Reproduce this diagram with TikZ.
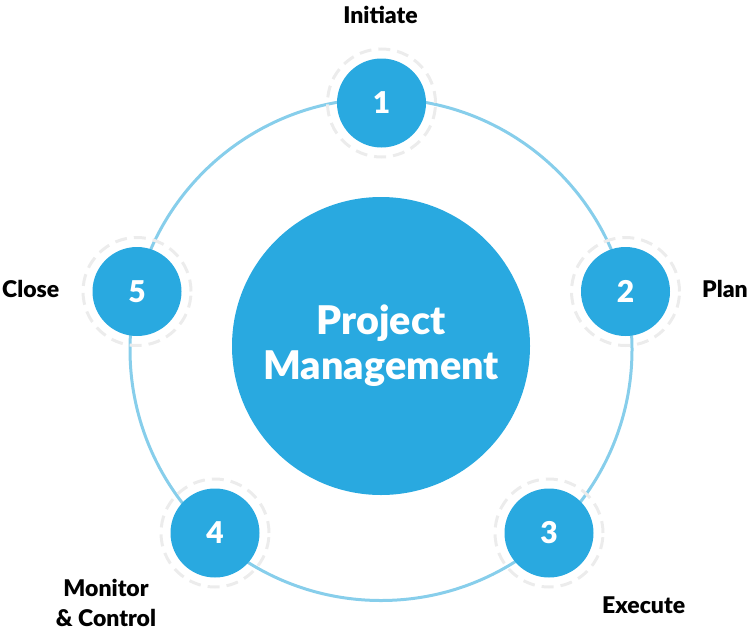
\documentclass[tikz,border=0pt]{standalone}
\usepackage{fontspec}
\setmainfont{Lato}[BoldFont={Lato Black}]

\definecolor{pmblue}{RGB}{41,169,224}
\definecolor{ringblue}{RGB}{135,206,235}
\definecolor{halogray}{RGB}{236,236,236}

\tikzset{
  stage/.style={circle,fill=pmblue,minimum size=89pt,inner sep=0pt,
    text=white,font=\fontsize{30}{30}\selectfont\bfseries},
  phase/.style={anchor=base,inner sep=0pt,font=\fontsize{23}{30}\selectfont\bfseries},
  halo/.style={draw=halogray,line width=3pt,dash pattern=on 12pt off 7pt},
  ring/.style={draw=ringblue,line width=3pt}
}

\begin{document}
\begin{tikzpicture}[x=1pt,y=-1pt]
      \useasboundingbox (0,0) rectangle (749,632);
      \coordinate (hub) at (381,349.5);
      \draw[ring] (hub) circle (251pt);

      \node[circle,fill=pmblue,minimum size=298pt,inner sep=0pt,text=white,
        align=center,font=\fontsize{39.5}{45}\selectfont\bfseries] (pm) at (381,346) {Project\\Management};

      \node[stage] (1) at (381.5,103) {1};
      \node[stage] (2) at (625.5,291.5) {2};
      \node[stage] (3) at (549,533) {3};
      \node[stage] (4) at (215,533) {4};
      \node[stage] (5) at (137,291.5) {5};

      \foreach \n in {1,...,5}
        \draw[halo] (\n) circle (54pt);

      \node[phase] (initiate) at (380.5,23) {Initiate};
      \node[phase,anchor=base east] (plan) at (748,297) {Plan};
      \node[phase,anchor=base west] (execute) at (602,613) {Execute};
      \node[phase,align=center] (monitor) at (106,626) {Monitor\\\& Control};
      \node[phase,anchor=base west] (close) at (2,297) {Close};
    \end{tikzpicture}
\end{document}
